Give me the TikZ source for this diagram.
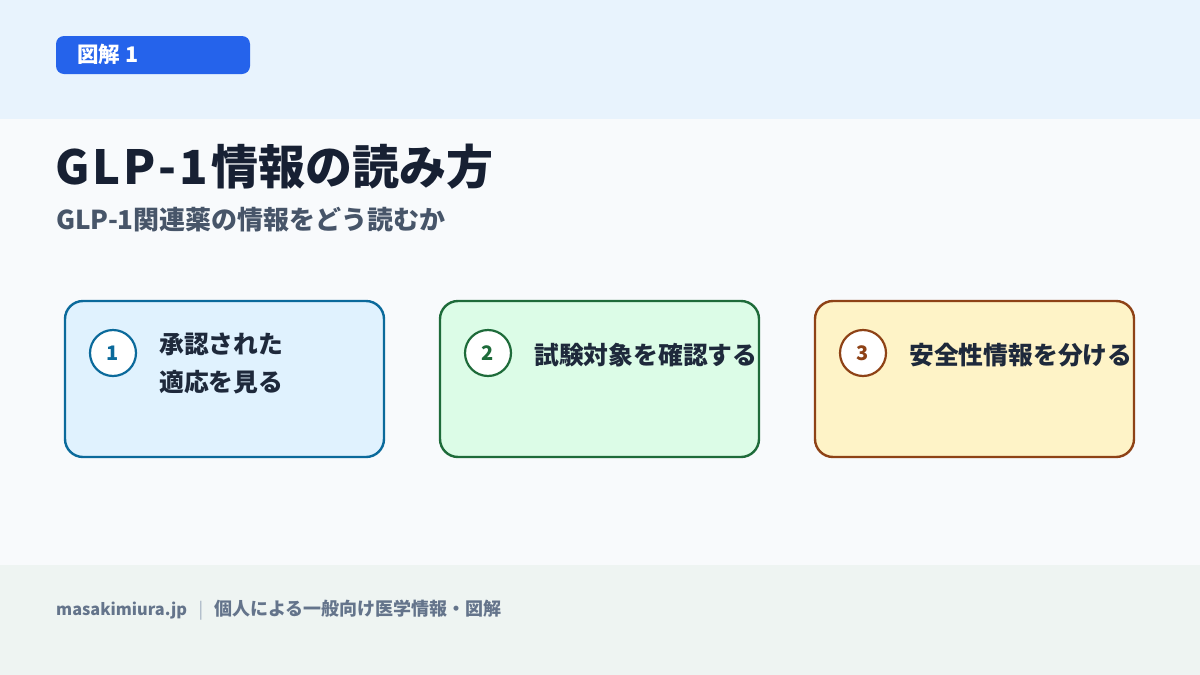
\documentclass[tikz,border=0pt]{standalone}
\usepackage{fontspec}
\setmainfont{Noto Sans CJK JP}
\definecolor{topbg}{HTML}{E8F3FD}
\definecolor{midbg}{HTML}{F8FAFC}
\definecolor{footbg}{HTML}{EEF4F2}
\definecolor{badge}{HTML}{2563EB}
\definecolor{titlec}{HTML}{172033}
\definecolor{subc}{HTML}{475569}
\definecolor{textc}{HTML}{1E293B}
\definecolor{footc}{HTML}{64748B}
\definecolor{sepc}{HTML}{A0AEC0}
\definecolor{blueS}{HTML}{0B6A9B}
\definecolor{blueF}{HTML}{E0F2FE}
\definecolor{greenS}{HTML}{1E6B3A}
\definecolor{greenF}{HTML}{DCFCE7}
\definecolor{brownS}{HTML}{8E4216}
\definecolor{brownF}{HTML}{FEF3C7}
\newcommand{\titlegap}{\kern2.8pt}
\tikzset{
  card/.style={draw=#1, line width=2.4pt, rounded corners=18pt},
  numcirc/.style={circle, draw=#1, fill=white, line width=2.2pt, minimum size=46pt, inner sep=0pt, text=#1, font=\fontsize{20}{22}\selectfont\bfseries},
  cardtext/.style={anchor=base west, inner sep=0pt, text=textc, font=\fontsize{24.8}{38}\selectfont\bfseries, align=left},
}
\begin{document}
\begin{tikzpicture}[x=1pt,y=-1pt]
\useasboundingbox (0,0) rectangle (1200,675);
% backgrounds
\fill[midbg] (0,0) rectangle (1200,675);
\fill[topbg] (0,0) rectangle (1200,119);
\fill[footbg] (0,565) rectangle (1200,675);
% badge
\fill[badge, rounded corners=8pt] (56,36) rectangle (250,74);
\node[anchor=base west, inner sep=0pt, text=white, font=\fontsize{21.5}{24}\selectfont\bfseries] (badgetext) at (77,62.5) {図解 1};
% title
\node[anchor=base west, inner sep=0pt, text=titlec, font=\fontsize{47}{52}\selectfont\bfseries] (title) at (55.5,184) {G\titlegap L\titlegap P\titlegap -\titlegap 1\titlegap 情報の読み方};
\node[anchor=base west, inner sep=0pt, text=subc, font=\fontsize{26}{30}\selectfont\bfseries] (subtitle) at (56,229.5) {GLP-1関連薬の情報をどう読むか};
% cards
\draw[card=blueS, fill=blueF] (65,301) rectangle (384,457);
\draw[card=greenS, fill=greenF] (440,301) rectangle (759,457);
\draw[card=brownS, fill=brownF] (815,301) rectangle (1134,457);
\node[numcirc=blueS] (n1) at (113,353) {1};
\node[numcirc=greenS] (n2) at (488,353) {2};
\node[numcirc=brownS] (n3) at (863,353) {3};
\node[cardtext] (t1) at (159,391) {承認された\\適応を見る};
\node[cardtext] (t2) at (534,364) {試験対象を確認する};
\node[cardtext] (t3) at (909,364) {安全性情報を分ける};
% footer
\node[anchor=base west, inner sep=0pt, text=footc, font=\fontsize{16.3}{20}\selectfont\bfseries] (site) at (56,615) {masakimiura.jp};
\node[anchor=base, inner sep=0pt, text=sepc, font=\fontsize{17}{20}\selectfont] (sep) at (201,615) {|};
\node[anchor=base west, inner sep=0pt, text=footc, font=\fontsize{18}{20}\selectfont\bfseries] (foot) at (214,615) {個人による一般向け医学情報・図解};
\end{tikzpicture}
\end{document}
